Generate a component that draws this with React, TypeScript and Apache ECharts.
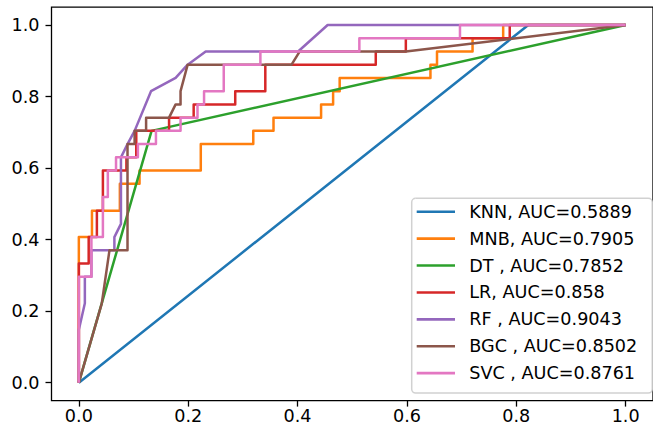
import React, { useEffect, useRef } from "react";
import * as echarts from "echarts";

const modelNames = [
  "KNN, AUC=0.5889",
  "MNB, AUC=0.7905",
  "DT , AUC=0.7852",
  "LR, AUC=0.858",
  "RF , AUC=0.9043",
  "BGC , AUC=0.8502",
  "SVC , AUC=0.8761",
];
const lineColors = ["#1f77b4", "#ff7f0e", "#2ca02c", "#d62728", "#9467bd", "#8c564b", "#e377c2"];
const tickValues = [0, 0.2, 0.4, 0.6, 0.8, 1.0];

// ROC points [false positive rate, true positive rate]
const knnRoc = [[0, 0], [0.822, 1], [1, 1]];
const mnbRoc = [
  [0, 0], [0, 0.407], [0.024, 0.407], [0.024, 0.481], [0.075, 0.481], [0.075, 0.556],
  [0.111, 0.556], [0.111, 0.593], [0.223, 0.593], [0.223, 0.667], [0.319, 0.667], [0.319, 0.704],
  [0.356, 0.704], [0.356, 0.741], [0.443, 0.741], [0.443, 0.778], [0.465, 0.778], [0.465, 0.815],
  [0.477, 0.815], [0.477, 0.852], [0.643, 0.852], [0.643, 0.889], [0.655, 0.889], [0.655, 0.926],
  [0.72, 0.926], [0.72, 0.963], [0.776, 0.963], [0.776, 1], [1, 1],
];
const dtRoc = [[0, 0], [0.133, 0.704], [1, 1]];
const lrRoc = [
  [0, 0], [0, 0.333], [0.018, 0.333], [0.018, 0.407], [0.033, 0.407], [0.033, 0.481],
  [0.044, 0.481], [0.044, 0.593], [0.087, 0.593], [0.087, 0.63], [0.105, 0.63], [0.105, 0.704],
  [0.165, 0.704], [0.165, 0.741], [0.21, 0.741], [0.21, 0.778], [0.286, 0.778], [0.286, 0.815],
  [0.341, 0.815], [0.341, 0.889], [0.543, 0.889], [0.543, 0.926], [0.598, 0.926], [0.598, 0.963],
  [0.788, 0.963], [0.788, 1], [1, 1],
];
const rfRoc = [
  [0, 0], [0, 0.148], [0.011, 0.222], [0.011, 0.296], [0.023, 0.296], [0.023, 0.37],
  [0.065, 0.37], [0.065, 0.407], [0.077, 0.444], [0.077, 0.63], [0.089, 0.667], [0.102, 0.704],
  [0.132, 0.815], [0.177, 0.852], [0.199, 0.889], [0.232, 0.926], [0.401, 0.926], [0.455, 1], [1, 1],
];
const bgcRoc = [
  [0, 0], [0.042, 0.222], [0.056, 0.37], [0.089, 0.37], [0.089, 0.667], [0.102, 0.667],
  [0.102, 0.704], [0.123, 0.704], [0.123, 0.741], [0.165, 0.741], [0.177, 0.778], [0.186, 0.778],
  [0.186, 0.815], [0.199, 0.889], [0.389, 0.889], [0.404, 0.926], [0.598, 0.926], [1, 1],
];
const svcRoc = [
  [0, 0], [0, 0.296], [0.023, 0.296], [0.023, 0.407], [0.044, 0.407], [0.044, 0.519],
  [0.053, 0.519], [0.053, 0.593], [0.068, 0.593], [0.068, 0.63], [0.108, 0.63], [0.108, 0.667],
  [0.141, 0.667], [0.141, 0.704], [0.186, 0.704], [0.186, 0.741], [0.217, 0.741], [0.217, 0.778],
  [0.229, 0.778], [0.229, 0.815], [0.265, 0.815], [0.265, 0.889], [0.332, 0.889], [0.332, 0.926],
  [0.513, 0.926], [0.513, 0.963], [0.697, 0.963], [0.697, 1], [1, 1],
];

const rocSets = [knnRoc, mnbRoc, dtRoc, lrRoc, rfRoc, bgcRoc, svcRoc];

const FONT = "DejaVu Sans";
const FS = 17.6;

export default function App() {
  const ref = useRef<HTMLDivElement>(null);
  useEffect(() => {
    if (!ref.current) return;
    const chart = echarts.init(ref.current, null, { renderer: "svg" });
    const fmt = (v: number) => v.toFixed(1);
    const axisCommon = {
      type: "value",
      min: -0.05,
      max: 1.05,
      axisLine: { show: false, onZero: false },
      splitLine: { show: false },
      axisTick: {
        show: true,
        length: 6,
        lineStyle: { color: "#000", width: 1.3 },
        customValues: tickValues,
      },
      axisLabel: {
        customValues: tickValues,
        formatter: fmt,
        color: "#000",
        fontFamily: FONT,
        fontSize: FS,
      },
    };
    chart.setOption({
      animation: false,
      backgroundColor: "#fff",
      grid: {
        left: 51.5,
        top: 7.1,
        width: 606,
        height: 393.5,
        show: true,
        borderColor: "#000",
        borderWidth: 1.3,
        backgroundColor: "transparent",
      },
      xAxis: { ...axisCommon, axisLabel: { ...axisCommon.axisLabel, margin: 6 } },
      yAxis: { ...axisCommon, axisLabel: { ...axisCommon.axisLabel, margin: 12 } },
      legend: {
        orient: "vertical",
        left: 411.7,
        top: 198.3,
        icon: "rect",
        itemWidth: 38.3,
        itemHeight: 2.6,
        itemGap: 0,
        padding: [0, 15, 6.5, 5],
        backgroundColor: "rgba(255,255,255,0.8)",
        borderColor: "rgba(204,204,204,0.9)",
        borderWidth: 1.5,
        borderRadius: 4,
        selectedMode: false,
        textStyle: {
          fontFamily: FONT,
          fontSize: FS,
          color: "#000",
          lineHeight: 26.9,
          padding: [0, 0, 0, 9.3],
        },
        data: modelNames,
      },
      series: rocSets.map((pts, i) => ({
        name: modelNames[i],
        type: "line",
        data: pts,
        symbol: "none",
        showSymbol: false,
        color: lineColors[i],
        lineStyle: { color: lineColors[i], width: 2.5, join: "round" },
        clip: false,
        z: 2 + i,
      })),
    });
    return () => chart.dispose();
  }, []);
  return (
    <div
      ref={ref}
      style={{ position: "absolute", left: 0, top: 0, width: 653, height: 435 }}
    />
  );
}
